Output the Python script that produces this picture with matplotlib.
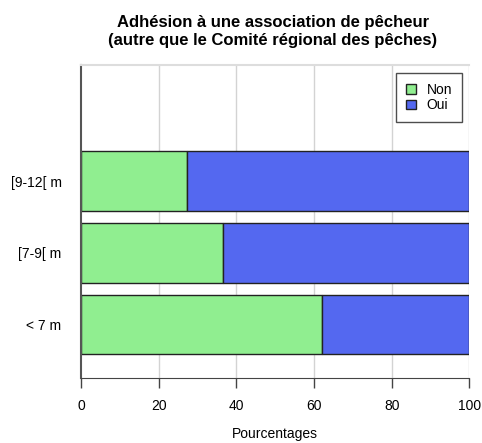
import numpy as np
import matplotlib.pyplot as plt

categories = ['< 7 m', '[7-9[ m', '[9-12[ m']
non = [62.1, 36.7, 27.3]
oui = [100 - v for v in non]
xticks = [0, 20, 40, 60, 80, 100]

plt.rcParams['font.family'] = ['Liberation Sans', 'DejaVu Sans']

fig = plt.figure(figsize=(4.82, 4.43), dpi=100)
ax = fig.add_axes([0.168, 0.1467, 0.8057, 0.7066])

ypos = np.array([0.7, 1.9, 3.1])
green = '#90EE90'
blue = '#5468F0'

for x in xticks[1:]:
    ax.axvline(x, color='#d3d3d3', lw=1, zorder=0)

ax.barh(ypos, non, height=1, color=green, edgecolor='#222222', lw=1, label='Non', zorder=2)
ax.barh(ypos, oui, left=non, height=1, color=blue, edgecolor='#222222', lw=1, label='Oui', zorder=2)

ax.set_xlim(0, 100)
ax.set_ylim(-0.2, 5.05)
ax.set_xticks(xticks)
ax.set_yticks(ypos)
ax.set_yticklabels(categories)
ax.tick_params(axis='y', length=0, pad=14, labelsize=10)
ax.tick_params(axis='x', length=7, width=1, color='#444444', pad=8, labelsize=10)

ax.spines['right'].set_visible(False)
ax.spines['top'].set_color('#dddddd')
ax.spines['top'].set_linewidth(1.5)
ax.spines['left'].set_color('#555555')
ax.spines['left'].set_linewidth(1.5)
ax.spines['bottom'].set_color('#444444')

ax.set_xlabel('Pourcentages', fontsize=10, labelpad=10)
fig.text(0.566, 0.93, 'Adhésion à une association de pêcheur\n(autre que le Comité régional des pêches)',
         ha='center', va='center', fontsize=12, fontweight='bold', linespacing=1.25)

leg = ax.legend(loc='upper right', bbox_to_anchor=(0.981, 0.974), fontsize=10, frameon=True,
                fancybox=False, edgecolor='#222222', handlelength=0.7, handleheight=0.7,
                borderpad=0.7, labelspacing=0.1, handletextpad=0.8, borderaxespad=0)
leg.get_frame().set_linewidth(1)

fig.savefig('out.png', dpi=100)
